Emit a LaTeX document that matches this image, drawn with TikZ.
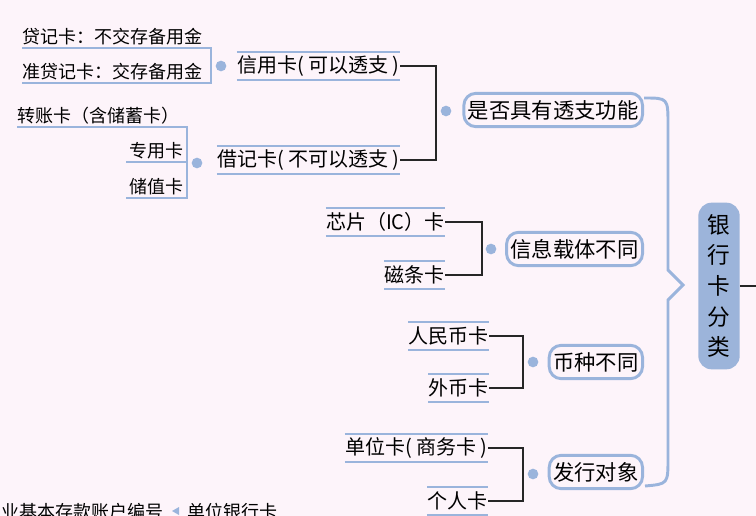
\documentclass[tikz,border=0pt]{standalone}
\usepackage{fontspec}
\setmainfont{Noto Sans CJK SC}
\usetikzlibrary{positioning}
\definecolor{bgpink}{HTML}{FDF4FA}
\definecolor{mapblue}{HTML}{9AB4DC}
\definecolor{rootblue}{HTML}{9CB4DA}

\tikzset{
  lvone/.style={draw=mapblue, line width=2.2pt, rounded corners=9pt, fill=bgpink,
    font=\fontsize{16}{17}\selectfont, inner xsep=3pt, inner ysep=2pt, minimum height=25pt},
  lvtwo/.style={font=\fontsize{15}{16}\selectfont, inner xsep=0pt, inner ysep=1pt, minimum height=21pt},
  lvthree/.style={font=\fontsize{13.5}{14}\selectfont, inner xsep=0pt, inner ysep=2pt},
  uline/.style={mapblue, line width=1.3pt},
  bline/.style={black!85, line width=1.3pt},
  knob/.style={circle, fill=mapblue, inner sep=0pt, minimum size=8pt}
}

\begin{document}
\begin{tikzpicture}[x=0.75pt,y=-0.75pt]
\useasboundingbox (0,0) rectangle (756,516);
\clip (0,0) rectangle (756,516);
\fill[bgpink] (0,0) rectangle (756,516);

% root
\node[fill=rootblue, rounded corners=10pt, minimum width=31pt, minimum height=125pt,
  font=\fontsize{17}{23}\selectfont, align=center, inner sep=0pt] (root) at (719,286)
  {银\\行\\卡\\分\\类};
\draw[bline] (root.east) -- (756,286);

% first level
\node[lvone, anchor=east] (overdraft) at (644,110) {是否具有透支功能};
\node[lvone, anchor=east] (carrier) at (644,249) {信息载体不同};
\node[lvone, anchor=east] (currency) at (644,362) {币种不同};
\node[lvone, anchor=east] (issuer) at (644,472) {发行对象};

% brace
\draw[mapblue, line width=2.2pt] (overdraft.east) ++(0,-12) .. controls (668,98) .. (668,125)
  -- (668,270) -- (683,285) -- (668,300) -- (668,458) .. controls (668,484) .. (645,486);

\node[knob] (k1) at (446,111) {};
\node[knob] (k2) at (491,249) {};
\node[knob] (k3) at (533,362) {};
\node[knob] (k4) at (533,474) {};

% second level
\node[lvtwo, anchor=east] (credit) at (400,66) {信用卡( 可以透支 )};
\node[lvtwo, anchor=east] (debit) at (400,160) {借记卡( 不可以透支 )};
\node[lvtwo, anchor=east] (chip) at (445,222) {芯片（IC）卡};
\node[lvtwo, anchor=east] (magnet) at (445,275) {磁条卡};
\node[lvtwo, anchor=east] (rmb) at (489,336) {人民币卡};
\node[lvtwo, anchor=east] (foreign) at (489,388) {外币卡};
\node[lvtwo, anchor=east] (unit) at (488,448) {单位卡( 商务卡 )};
\node[lvtwo, anchor=east] (person) at (488,501) {个人卡};
\foreach \n in {credit,debit,chip,magnet,rmb,foreign,unit,person}
  \draw[uline] (\n.north west) -- (\n.north east) (\n.south west) -- (\n.south east);

\draw[bline] (credit.east) -| (436,111) |- (debit.east);
\draw[bline] (chip.east) -| (482,249) |- (magnet.east);
\draw[bline] (rmb.east) -| (523,362) |- (foreign.east);
\draw[bline] (unit.east) -| (523,474) |- (person.east);

% third level
\node[knob] (k5) at (221,66) {};
\node[knob] (k6) at (197,163) {};
\node[lvthree, anchor=south west] (loan) at (22,48) {贷记卡：不交存备用金};
\node[lvthree, anchor=south west] (semiloan) at (22,83) {准贷记卡：交存备用金};
\draw[uline] (loan.south west) -- (211,48) -- (211,83) -- (semiloan.south west);

\node[lvthree, anchor=south west] (transfer) at (17,127) {转账卡（含储蓄卡）};
\node[lvthree, anchor=south east] (special) at (184,162) {专用卡};
\node[lvthree, anchor=south east] (stored) at (184,198) {储值卡};
\draw[uline] (transfer.south west) -- (187,127) -- (187,198) -- (126,198);
\draw[uline] (126,162) -- (187,162);

% cut off at the bottom
\node[lvthree, anchor=base east] (account) at (164,518) {业基本存款账户编号};
\fill[mapblue] (172,511) -- (179,507) -- (179,515) -- cycle;
\node[lvthree, anchor=base west] (unitcard) at (187,518) {单位银行卡};
\end{tikzpicture}
\end{document}
